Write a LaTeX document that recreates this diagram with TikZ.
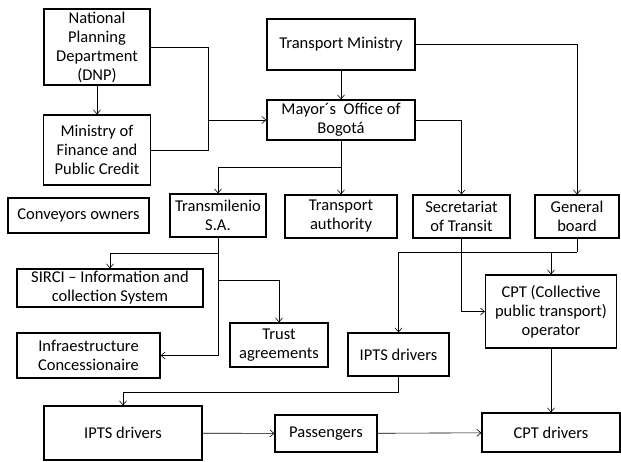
\documentclass[tikz,border=0pt]{standalone}
\usepackage{fontspec}
\setmainfont{Carlito}
\usetikzlibrary{arrows.meta}
\begin{document}
\begin{tikzpicture}[x=1pt,y=-1pt,
    box/.style={draw, line width=1.3pt, inner sep=0pt, align=center, font=\fontsize{16.5}{19}\selectfont},
    link/.style={line width=0.6pt},
    >={Straight Barb[length=4pt,width=7pt]}]
        \useasboundingbox (0,0) rectangle (621,461);

        \node[box, minimum width=106, minimum height=76] (dnp) at (97,47) {National\\Planning\\Department\\(DNP)};
        \node[box, minimum width=107, minimum height=70] (mof) at (97,150) {Ministry of\\Finance and\\Public Credit};
        \node[box, minimum width=141, minimum height=35] (conv) at (78.5,215.5) {Conveyors owners};
        \node[box, minimum width=96, minimum height=43] (tml) at (218,215.5) {Transmilenio\\S.A.};
        \node[box, minimum width=148, minimum height=51] (tmin) at (341,44.5) {Transport Ministry};
        \node[box, minimum width=148, minimum height=40] (mayor) at (341,120) {Mayor´s~ Office of\\Bogotá};
        \node[box, minimum width=112, minimum height=43] (tauth) at (341,216.5) {Transport\\authority};
        \node[box, minimum width=97, minimum height=43] (sec) at (461.5,216.5) {Secretariat\\of Transit};
        \node[box, minimum width=84, minimum height=43] (gb) at (577,216.5) {General\\board};
        \node[box, minimum width=186, minimum height=38] (sirci) at (110,288) {SIRCI – Information and\\collection System};
        \node[box, minimum width=98, minimum height=44] (trust) at (279,345) {Trust\\agreements};
        \node[box, minimum width=143, minimum height=45] (infra) at (88.5,355.5) {Infraestructure\\Concessionaire};
        \node[box, minimum width=101, minimum height=43] (ipts) at (398.5,354.5) {IPTS drivers};
        \node[box, minimum width=131, minimum height=73] (cpto) at (551,311.5) {CPT (Collective\\public transport)\\operator};
        \node[box, minimum width=158, minimum height=54] (iptsd) at (123,433) {IPTS drivers};
        \node[box, minimum width=102, minimum height=37] (pass) at (326,433.5) {Passengers};
        \node[box, minimum width=138, minimum height=39] (cptd) at (551,432.5) {CPT drivers};

        \coordinate (jdnp) at (208,120);
        \coordinate (jmay) at (341,167);
        \coordinate (jsir) at (218,253);
        \coordinate (jtru) at (218,280);
        \coordinate (jgb) at (577,252);

        \draw[link, ->] (dnp) -- (mof);
        \draw[link] (dnp.east) -| (jdnp);
        \draw[link] (mof.east) -| (jdnp);
        \draw[link, ->] (jdnp) -- (mayor.west);
        \draw[link, ->] (tmin) -- (mayor);
        \draw[link, ->] (tmin.east) -| (gb.north);
        \draw[link, ->] (mayor.east) -| (sec.north);
        \draw[link, ->] (mayor) -- (tauth);
        \draw[link, ->] (jmay) -| (tml.north);
        \draw[link, ->] (tml.south) |- (infra.east);
        \draw[link, ->] (jsir) -| (sirci.north);
        \draw[link, ->] (jtru) -| (trust.north);
        \draw[link] (gb.south) -- (jgb);
        \draw[link, ->] (jgb) -| (ipts.north);
        \draw[link, ->] (jgb) -| (cpto.north);
        \draw[link, ->] (sec.south) |- (cpto.west);
        \draw[link, ->] (cpto) -- (cptd);
        \draw[link, ->] (ipts.south) -- ++(0,16) -| (iptsd.north);
        \draw[link, ->] (iptsd) -- (pass);
        \draw[link, ->] (pass) -- (cptd);
    \end{tikzpicture}
\end{document}
